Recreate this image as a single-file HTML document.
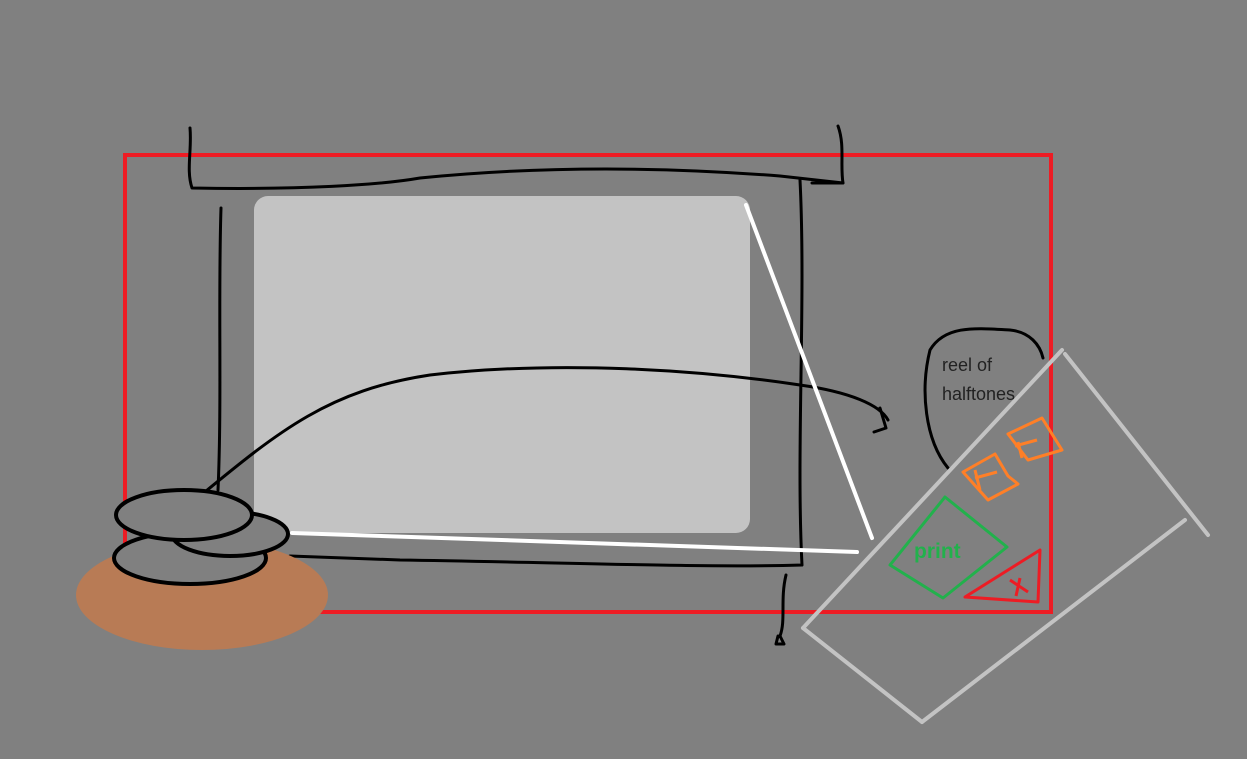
<!DOCTYPE html>
<html><head><style>html,body{margin:0;padding:0;background:#808080;}svg{display:block}</style></head><body>
<svg width="1247" height="759" viewBox="0 0 1247 759" xmlns="http://www.w3.org/2000/svg">
<rect width="1247" height="759" fill="#808080"/>
<rect x="125" y="155" width="926" height="457" fill="none" stroke="#ed1c24" stroke-width="4"/>
<rect x="254" y="196" width="496" height="337" rx="14" fill="#c3c3c3"/>
<g fill="none" stroke="#000" stroke-width="3" stroke-linecap="round" stroke-linejoin="round">
<path d="M190 128 C192 150,186 170,192 188 C300 190,380 185,420 178 C520 168,640 165,780 176 L843 183 C840 165,845 145,838 126"/>
<path d="M812 183 L843 183"/>
<path d="M221 208 C218 300,222 400,218 490"/>
<path d="M800 180 C806 300,796 450,802 565 C700 568,550 562,400 560 L290 556"/>
<path d="M786 575 C780 600,786 620,780 636 L784 644 L776 644 L778 636"/>
<path d="M200 496 C280 430,330 390,430 375 C560 360,700 370,800 385 C850 392,880 405,888 420"/>
<path d="M880 408 L886 428 L874 432"/>
<path d="M948 468 C925 440,920 390,930 350 C945 325,975 328,1010 330 C1030 332,1040 345,1043 358"/>
</g>
<g stroke="#fff" stroke-width="4" stroke-linecap="round">
<line x1="746" y1="205" x2="872" y2="538"/>
<line x1="292" y1="533" x2="857" y2="552"/>
</g>
<ellipse cx="202" cy="595" rx="126" ry="55" fill="#b87b55"/>
<g fill="#808080" stroke="#000" stroke-width="4">
<ellipse cx="190" cy="558" rx="76" ry="26"/>
<ellipse cx="230" cy="534" rx="58" ry="22"/>
<ellipse cx="184" cy="515" rx="68" ry="25"/>
</g>
<g fill="none" stroke="#c3c3c3" stroke-width="4" stroke-linecap="round">
<line x1="1062" y1="350" x2="803" y2="628"/>
<line x1="803" y1="628" x2="922" y2="722"/>
<line x1="922" y1="722" x2="1185" y2="520"/>
<line x1="1065" y1="354" x2="1208" y2="535"/>
</g>
<text x="942" y="371" font-family="Liberation Sans, sans-serif" font-size="18" fill="#222">reel of</text>
<text x="942" y="400" font-family="Liberation Sans, sans-serif" font-size="18" fill="#222">halftones</text>
<g fill="none" stroke="#ff7f27" stroke-width="3" stroke-linejoin="round">
<path d="M963 472 L995 454 L1008 476 L1018 484 L988 500 Z"/>
<path d="M1008 434 L1042 418 L1062 450 L1028 460 Z"/>
<path d="M975 470 L980 490 M975 478 L997 472 M1018 442 L1022 458 M1015 446 L1037 440"/>
</g>
<path d="M945 497 L1007 547 L943 598 L890 565 Z" fill="none" stroke="#22b14c" stroke-width="3" stroke-linejoin="round"/>
<text x="914" y="558" font-family="Liberation Sans, sans-serif" font-weight="bold" font-size="21" fill="#22b14c">print</text>
<path d="M965 597 L1040 550 L1038 602 Z" fill="none" stroke="#ed1c24" stroke-width="3" stroke-linejoin="round"/>
<path d="M1010 580 L1028 592 M1020 578 L1016 596" stroke="#ed1c24" stroke-width="3"/>
</svg>
</body></html>
